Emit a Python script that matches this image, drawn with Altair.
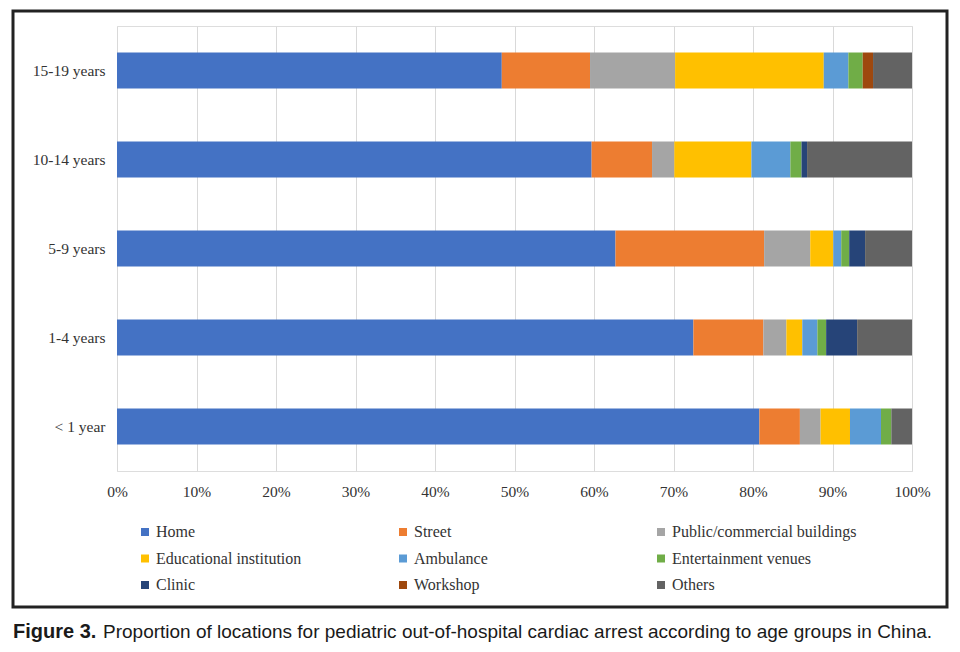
import altair as alt
import pandas as pd

ages = ["15-19 years", "10-14 years", "5-9 years", "1-4 years", "< 1 year"]
locations = ["Home", "Street", "Public/commercial buildings", "Educational institution",
             "Ambulance", "Entertainment venues", "Clinic", "Workshop", "Others"]
colors = ["#4472C4", "#ED7D31", "#A5A5A5", "#FFC000", "#5B9BD5", "#70AD47",
          "#264478", "#9E480E", "#636363"]

home          = [48.4, 59.7, 62.7, 72.5, 80.8]
street        = [11.1, 7.6, 18.7, 8.8, 5.1]
public        = [10.7, 2.8, 5.8, 2.9, 2.6]
educational   = [18.7, 9.7, 2.9, 2.0, 3.7]
ambulance     = [3.1, 4.9, 1.0, 1.9, 3.9]
entertainment = [1.8, 1.4, 1.0, 1.1, 1.3]
clinic        = [0.0, 0.7, 2.0, 3.9, 0.0]
workshop      = [1.3, 0.0, 0.0, 0.0, 0.0]
others        = [4.9, 13.2, 5.9, 6.9, 2.6]

series = [home, street, public, educational, ambulance, entertainment, clinic, workshop, others]

rows = []
for li, (loc, vals) in enumerate(zip(locations, series)):
    for age, v in zip(ages, vals):
        rows.append({"age": age, "location": loc, "value": v, "order": li})
df = pd.DataFrame(rows)

SERIF = "Liberation Serif"
W, H = 795, 445

bars = alt.Chart(df).mark_bar(size=36).encode(
    y=alt.Y("age:N", sort=ages, title=None,
            axis=alt.Axis(labelFont=SERIF, labelFontSize=15.5, labelColor="#333333",
                          ticks=False, domain=False, grid=False, labelPadding=12)),
    x=alt.X("value:Q", stack="normalize", title=None,
            scale=alt.Scale(domain=[0, 1], nice=False),
            axis=alt.Axis(format=".0%", values=[i / 10 for i in range(11)],
                          labelFont=SERIF, labelFontSize=15.5, labelColor="#333333",
                          labelFlush=False, labelOverlap=False,
                          ticks=False, domain=False, grid=True, gridColor="#d9d9d9",
                          labelPadding=13)),
    color=alt.Color("location:N", sort=locations,
                    scale=alt.Scale(domain=locations, range=colors),
                    legend=alt.Legend(title=None, orient="none", legendX=20, legendY=498,
                                      direction="horizontal",
                                      columns=3, symbolType="square", symbolSize=64,
                                      symbolStrokeWidth=0, labelFont=SERIF, labelFontSize=16,
                                      labelColor="#333333", rowPadding=10.5, columnPadding=54,
                                      gridAlign="all", labelLimit=300, labelOffset=3)),
    order=alt.Order("order:Q", sort="ascending"),
)

frame = alt.Chart(pd.DataFrame({"k": [0]})).mark_rect(
    fill=None, stroke="#222222", strokeWidth=3
).encode(x=alt.value(-104), x2=alt.value(830), y=alt.value(-15), y2=alt.value(581))

cap_bold = alt.Chart(pd.DataFrame({"t": ["Figure 3."]})).mark_text(
    font="Liberation Sans", fontSize=20, fontWeight="bold", align="left",
    baseline="middle", color="#1a1a1a"
).encode(x=alt.value(-104), y=alt.value(606), text="t:N")

cap_text = alt.Chart(pd.DataFrame({"t": [
    "Proportion of locations for pediatric out-of-hospital cardiac arrest according to age groups in China."
]})).mark_text(
    font="Liberation Sans", fontSize=19, align="left", baseline="middle", color="#1a1a1a"
).encode(x=alt.value(-14), y=alt.value(606), text="t:N")

chart = alt.layer(bars, frame, cap_bold, cap_text).properties(
    width=W, height=H,
    autosize=alt.AutoSizeParams(type="none"),
    padding={"left": 117, "top": 26, "right": 48, "bottom": 181},
).configure_view(stroke=None).configure(background="white")

chart.save("out.html", embed_options={"renderer": "svg", "actions": False})
